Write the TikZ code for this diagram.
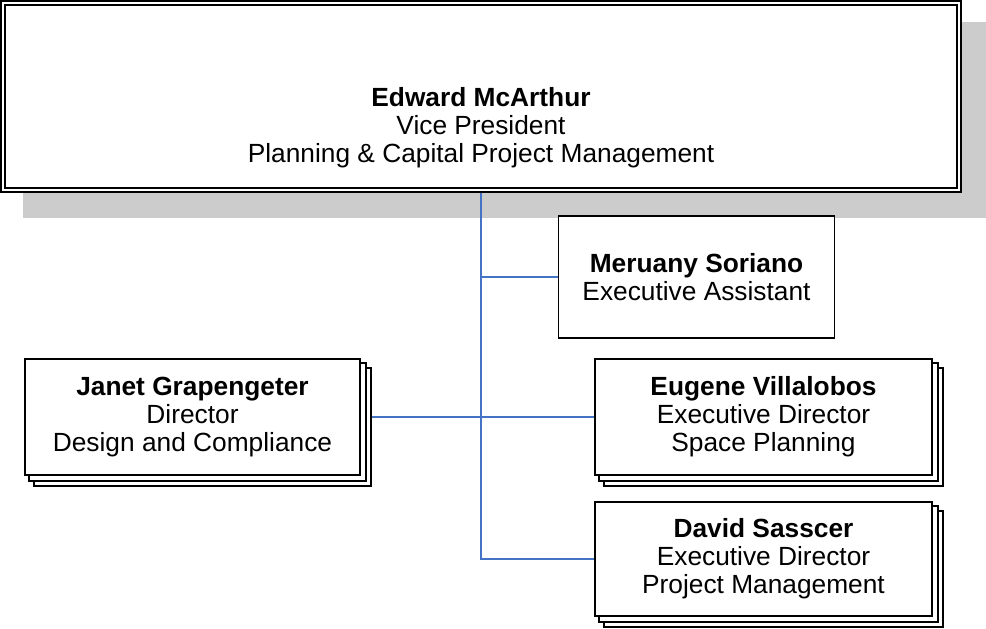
\documentclass[tikz,border=0pt]{standalone}
\usepackage{fontspec}
\setmainfont{Liberation Sans}
\definecolor{connblue}{HTML}{4472C4}
\definecolor{shadowgray}{HTML}{CCCCCC}
\tikzset{
  box/.style={draw=black, line width=1.6pt, fill=white, inner sep=0pt, align=center,
    font=\fontsize{26.3}{28}\selectfont},
  conn/.style={draw=connblue, line width=1.5pt},
}
\newcommand{\stackcopies}[1]{%
  \draw[line width=1.6pt, fill=white] ([shift={(10pt,-10pt)}]#1.north west) rectangle ([shift={(10pt,-10pt)}]#1.south east);
  \draw[line width=1.6pt, fill=white] ([shift={(5pt,-5pt)}]#1.north west) rectangle ([shift={(5pt,-5pt)}]#1.south east);
}
\begin{document}
\begin{tikzpicture}[x=1pt,y=-1pt]
\useasboundingbox (0,0) rectangle (986,629);
% shadow of top box
\fill[shadowgray] (23,22) rectangle (986,218);
% top box
\node[box, line width=2.2pt, minimum width=960pt, minimum height=191pt] (top) at (481,96.5) {};
\draw[line width=1.4pt] ([shift={(5pt,-5pt)}]top.north west) rectangle ([shift={(-5pt,5pt)}]top.south east);
\node[align=center, font=\fontsize{26.3}{28}\selectfont] (toptext) at (481,128)
  {\textbf{Edward McArthur}\\Vice President\\Planning \& Capital Project Management};
% placeholders for the stacked boxes
\path node[box, draw=none, fill=none, minimum width=335pt, minimum height=116pt] (janetp) at (192.5,417) {};
\path node[box, draw=none, fill=none, minimum width=337pt, minimum height=116pt] (eugenep) at (763.5,417) {};
\path node[box, draw=none, fill=none, minimum width=337pt, minimum height=114pt] (davidp) at (763.5,559) {};
% connectors
\draw[conn] (top.south) -- (top.south |- davidp.west) -- (davidp.west);
\draw[conn] (janetp.east) -- (eugenep.west);
% stacked copies
\stackcopies{janetp}
\stackcopies{eugenep}
\stackcopies{davidp}
% boxes
\node[box, minimum width=276pt, minimum height=122pt] (mer) at (696.5,277)
  {\textbf{Meruany Soriano}\\Executive Assistant};
\draw[conn] (top.south |- mer.west) -- (mer.west);
\node[box, minimum width=335pt, minimum height=116pt] (janet) at (192.5,417)
  {\textbf{Janet Grapengeter}\\Director\\Design and Compliance};
\node[box, minimum width=337pt, minimum height=116pt] (eugene) at (763.5,417)
  {\textbf{Eugene Villalobos}\\Executive Director\\Space Planning};
\node[box, minimum width=337pt, minimum height=114pt] (david) at (763.5,559)
  {\textbf{David Sasscer}\\Executive Director\\Project Management};
\end{tikzpicture}
\end{document}
